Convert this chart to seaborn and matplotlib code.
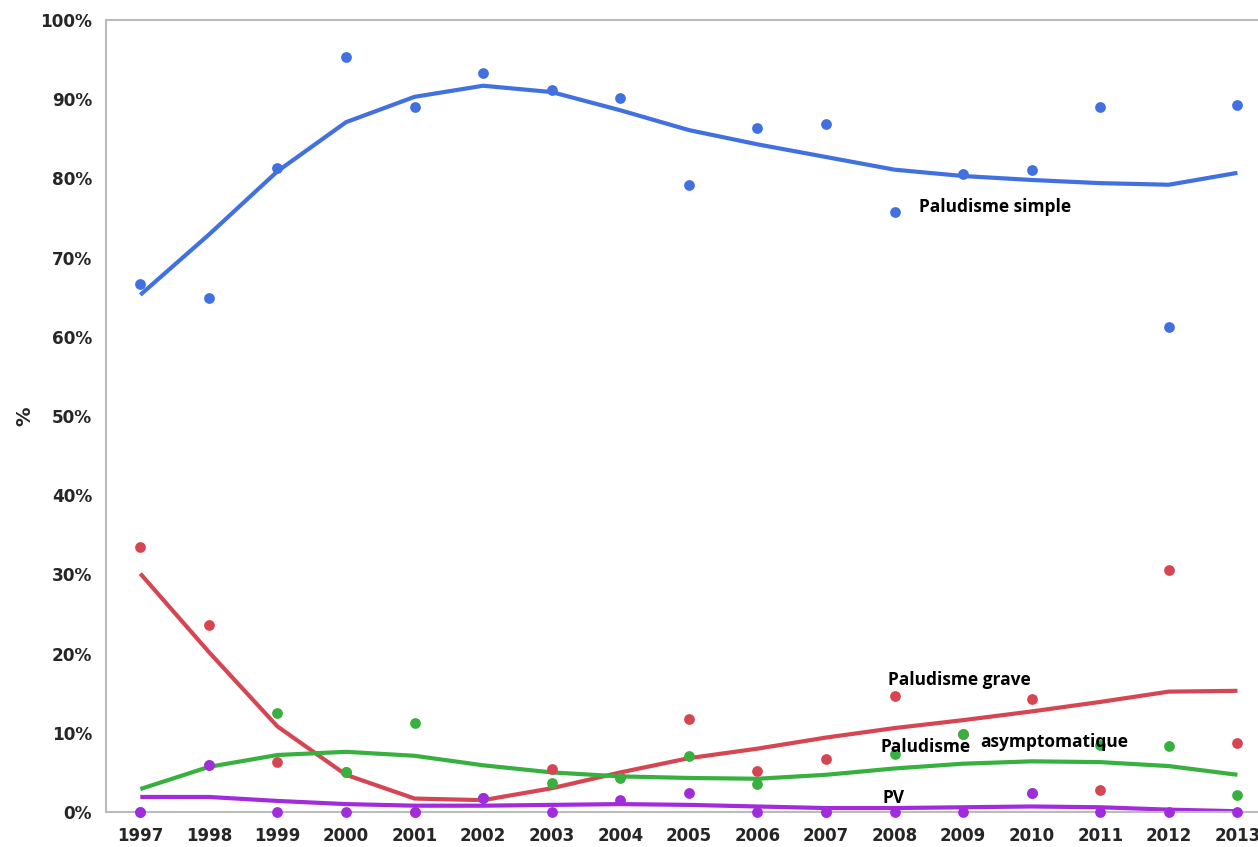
import numpy as np
import pandas as pd
import seaborn as sns
import matplotlib.pyplot as plt
from matplotlib.ticker import MultipleLocator, FuncFormatter

years = list(range(1997, 2014))

# observed shares (%)
simple_pts = [66.7, 64.9, 81.3, 95.3, 89.0, 93.3, 91.2, 90.2, 79.2, 86.4, 86.9, 75.8, 80.6, 81.1, 89.0, 61.2, 89.3]
grave_pts = [33.4, 23.6, 6.3, 5.0, 0.0, 1.8, 5.4, 4.4, 11.7, 5.2, 6.7, 14.6, 9.8, 14.3, 2.8, 30.6, 8.7]
asympt_pts = [0.0, 5.9, 12.5, 5.0, 11.2, 1.8, 3.7, 4.3, 7.1, 3.5, 0.0, 7.3, 9.8, 2.4, 8.5, 8.3, 2.2]
pv_pts = [0.0, 5.9, 0.0, 0.0, 0.0, 1.8, 0.0, 1.5, 2.4, 0.0, 0.0, 0.0, 0.0, 2.4, 0.0, 0.0, 0.0]

# smoothed trend (%)
simple_trend = [65.3, 72.9, 80.9, 87.1, 90.3, 91.7, 90.9, 88.6, 86.1, 84.3, 82.7, 81.1, 80.3, 79.8, 79.4, 79.2, 80.7]
grave_trend = [30.1, 20.2, 10.8, 4.7, 1.7, 1.5, 3.0, 5.0, 6.8, 8.0, 9.4, 10.6, 11.6, 12.7, 13.9, 15.2, 15.3]
asympt_trend = [2.9, 5.7, 7.2, 7.6, 7.1, 5.9, 5.0, 4.5, 4.3, 4.2, 4.7, 5.5, 6.1, 6.4, 6.3, 5.8, 4.7]
pv_trend = [1.9, 1.9, 1.4, 1.0, 0.8, 0.8, 0.9, 1.0, 0.9, 0.7, 0.5, 0.5, 0.6, 0.7, 0.6, 0.3, 0.1]

series = [
    ("simple", simple_pts, simple_trend, "#4170E0"),
    ("grave", grave_pts, grave_trend, "#D64552"),
    ("asympt", asympt_pts, asympt_trend, "#38B040"),
    ("pv", pv_pts, pv_trend, "#A22BDD"),
]

sns.set_style("white")
plt.rcParams['font.family'] = ['DejaVu Sans']
plt.rcParams['font.sans-serif'] = ['DejaVu Sans']
plt.rcParams['font.weight'] = 'bold'

fig = plt.figure(figsize=(12.58, 8.47), dpi=100)
ax = fig.add_axes([0.0843, 0.0413, 0.9157, 0.9351])

for name, pts, trend, col in series:
    sns.lineplot(x=years, y=trend, color=col, linewidth=3.0, ax=ax,
                 solid_capstyle='butt', solid_joinstyle='round')
for name, pts, trend, col in series:
    sns.scatterplot(x=years, y=pts, color=col, s=60, linewidth=0, ax=ax,
                    clip_on=False, zorder=3)

ax.set_xlim(1996.5, 2013.3)
ax.set_ylim(0, 100)
ax.xaxis.set_major_locator(MultipleLocator(1))
ax.xaxis.set_minor_locator(MultipleLocator(0.5))
ax.yaxis.set_major_locator(MultipleLocator(10))
ax.yaxis.set_minor_locator(MultipleLocator(1))
ax.yaxis.set_major_formatter(FuncFormatter(lambda v, p: f"{int(v)}%"))

grey = "#BBBBBB"
for s in ["left", "bottom", "top"]:
    ax.spines[s].set_color(grey)
    ax.spines[s].set_linewidth(1.5)
ax.spines["right"].set_visible(False)
ax.tick_params(axis="both", which="both", direction="out", color=grey, width=1)
ax.tick_params(axis="y", which="major", length=6, labelsize=12.2, pad=4)
ax.tick_params(axis="y", which="minor", length=3)
ax.tick_params(axis="x", which="major", length=5, labelsize=12, pad=6)
ax.tick_params(axis="x", which="minor", length=4)
for lab in ax.get_xticklabels() + ax.get_yticklabels():
    lab.set_fontweight("bold")
    lab.set_family("DejaVu Sans")

ax.set_xlabel("")
ax.set_ylabel("%", fontsize=14, fontweight="bold", labelpad=4)

lbl = dict(fontsize=12.5, fontweight="bold", family=["Open Sans", "DejaVu Sans"],
           va="center", ha="left", color="black")
ax.text(2008.35, 76.4, "Paludisme simple", **lbl)
ax.text(2007.9, 16.7, "Paludisme grave", **lbl)
ax.text(2007.8, 8.2, "Paludisme", **lbl)
ax.text(2009.25, 8.8, "asymptomatique", **lbl)
ax.text(2007.83, 1.8, "PV", **lbl)

fig.savefig("out.png", dpi=100)
